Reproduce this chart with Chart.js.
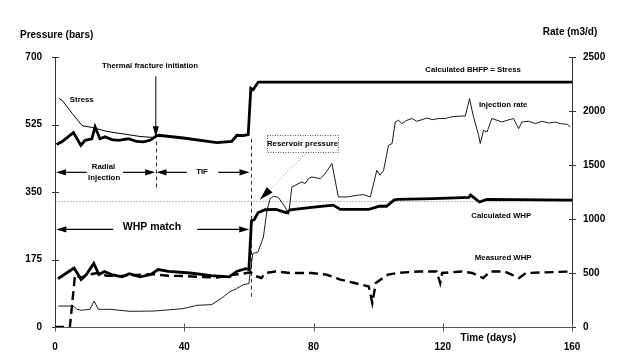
<!DOCTYPE html>
<html>
<head>
<meta charset="utf-8">
<script src="https://cdn.jsdelivr.net/npm/chart.js@4.4.1/dist/chart.umd.min.js"></script>
<style>
  html, body { margin: 0; padding: 0; background: #fff; }
  #c { display: block; }
</style>
</head>
<body>
<canvas id="c" width="624" height="364"></canvas>
<script>
// ---- Data ----
const xTicks = [0, 40, 80, 120, 160];
const pressureTicks = [0, 175, 350, 525, 700];
const rateTicks = [0, 500, 1000, 1500, 2000, 2500];

const stressDays = [1.2, 2.5, 5.3, 8.4, 11.8, 16.1, 22.3, 26.3, 31.0];
const stressBars = [593, 585, 554, 522, 517, 507, 499, 494, 491];

const bhfpDays = [0.5, 2.1, 5.7, 8.0, 9.3, 11.4, 12.4, 13.9, 15.5, 17.6, 19.6, 22.7, 25.3, 27.4, 29.4, 31.0, 32.0, 39.7, 50.1, 54.7, 56.3, 58.2, 59.8, 60.6, 61.3, 62.9, 160];
const bhfpBars = [473, 480, 504, 471, 484, 488, 519, 488, 493, 486, 484, 488, 481, 480, 484, 493, 497, 490, 478, 481, 497, 496, 499, 619, 615, 635, 635];

const whpDays = [0.9, 5.9, 8.1, 9.7, 12.0, 13.6, 15.3, 17.5, 20.8, 23.0, 26.3, 29.6, 31.9, 35.2, 41.8, 48.4, 54.0, 56.2, 59.0, 60.0, 60.8, 61.7, 62.8, 65.0, 68.4, 71.7, 72.8, 79.4, 86.1, 88.3, 97.1, 100.4, 102.6, 104.9, 105.9, 117.0, 128.1, 128.6, 131.4, 133.6, 160];
const whpBars = [125, 153, 123, 136, 165, 136, 144, 136, 130, 138, 130, 136, 149, 144, 140, 133, 130, 144, 151, 149, 275, 279, 296, 304, 305, 296, 304, 310, 316, 305, 305, 313, 313, 329, 331, 333, 336, 342, 324, 331, 329];

const measDays = [0, 4.6, 6.2, 8, 10, 13, 16, 20, 25, 30, 35, 40, 45, 50, 55, 58, 60.6, 61.7, 63.9, 65.0, 68.3, 72.8, 79.4, 83.8, 87.1, 88.3, 92.7, 97.1, 98.2, 99.3, 101.5, 103.1, 105.9, 112.6, 118.1, 119.2, 119.8, 125.9, 129.1, 132.5, 134.7, 139.0, 141.3, 143.6, 145.8, 160];
const measBars = [0, 0, 135, 128, 135, 140, 133, 132, 135, 137, 133, 132, 130, 128, 135, 138, 142, 133, 127, 140, 144, 140, 140, 136, 127, 123, 114, 105, 62, 114, 127, 136, 140, 144, 144, 114, 140, 144, 140, 127, 144, 144, 136, 127, 140, 144];

const rateDays = [1.0, 5.7, 6.7, 8.3, 10.8, 12.1, 13.4, 17.0, 23.2, 30.8, 39.6, 44.0, 48.5, 51.8, 54.0, 56.2, 58.4, 60.0, 61.2, 62.8, 64.5, 65.6, 66.6, 67.6, 69.1, 71.2, 72.3, 73.3, 74.3, 76.4, 77.4, 78.4, 79.5, 82.1, 83.6, 85.7, 87.7, 90.3, 93.4, 95.5, 97.6, 99.6, 100.6, 101.7, 103.2, 104.3, 105.3, 106.3, 107.4, 108.9, 110.5, 112.0, 113.6, 115.1, 116.7, 118.7, 120.8, 122.3, 124.4, 127.0, 128.3, 129.4, 131.1, 131.6, 132.6, 133.7, 135.2, 136.8, 138.3, 139.9, 141.9, 143.5, 144.5, 146.6, 148.7, 150.7, 152.8, 154.8, 156.4, 158.5, 159.5];
const rateVals = [194, 194, 164, 155, 164, 241, 164, 164, 145, 148, 170, 201, 207, 272, 324, 356, 393, 402, 680, 694, 833, 1080, 1189, 1210, 1201, 1111, 1043, 1296, 1312, 1343, 1328, 1374, 1389, 1374, 1420, 1513, 1204, 1204, 1219, 1226, 1204, 1451, 1405, 1451, 1682, 1698, 1898, 1914, 1883, 1914, 1930, 1905, 1920, 1935, 1920, 1930, 1930, 1944, 1951, 1954, 2115, 1960, 1775, 1698, 1821, 1806, 1930, 1914, 1898, 1914, 1930, 1837, 1898, 1905, 1883, 1905, 1889, 1898, 1883, 1877, 1852];

const reservoirPressure = 327;

// ---- helpers ----
const pts = (xs, ys) => xs.map((d, i) => ({ x: d, y: ys[i] }));
const FONT = '"Liberation Sans", Arial, Helvetica, sans-serif';

function arrowHead(ctx, tx, ty, fx, fy, len, half) {
  const a = Math.atan2(ty - fy, tx - fx);
  ctx.beginPath();
  ctx.moveTo(tx, ty);
  ctx.lineTo(tx - len * Math.cos(a) + half * Math.sin(a), ty - len * Math.sin(a) - half * Math.cos(a));
  ctx.lineTo(tx - len * Math.cos(a) - half * Math.sin(a), ty - len * Math.sin(a) + half * Math.cos(a));
  ctx.closePath();
  ctx.fill();
}
function line(ctx, x1, y1, x2, y2) {
  ctx.beginPath(); ctx.moveTo(x1, y1); ctx.lineTo(x2, y2); ctx.stroke();
}

const axesPlugin = {
  id: 'axesPlugin',
  beforeDatasetsDraw(chart) {
    const { ctx, scales: { x, y, y1 } } = chart;
    ctx.save();
    ctx.lineWidth = 1;
    ctx.setLineDash([]);
    // left axis
    ctx.strokeStyle = '#333';
    const xl = Math.round(x.getPixelForValue(0)) + 0.5;
    line(ctx, xl, y.getPixelForValue(0), xl, y.getPixelForValue(700));
    pressureTicks.forEach(v => { const p = Math.round(y.getPixelForValue(v)) + 0.5; line(ctx, xl - 3.5, p, xl + 3.5, p); });
    // right axis
    const xr = Math.round(x.getPixelForValue(160)) + 0.5;
    line(ctx, xr, y1.getPixelForValue(0), xr, y1.getPixelForValue(2500));
    rateTicks.forEach(v => { const p = Math.round(y1.getPixelForValue(v)) + 0.5; line(ctx, xr - 3.5, p, xr + 3.5, p); });
    // bottom axis
    ctx.strokeStyle = '#555';
    const yb = Math.round(y.getPixelForValue(0)) + 0.5;
    line(ctx, xl, yb, xr, yb);
    xTicks.forEach(v => { const p = Math.round(x.getPixelForValue(v)) + 0.5; line(ctx, p, yb - 4, p, yb + 4); });
    // reservoir pressure dotted line
    ctx.strokeStyle = '#777';
    ctx.setLineDash([1, 2]);
    const yr = Math.round(y.getPixelForValue(reservoirPressure)) + 0.5;
    line(ctx, xl, yr, xr, yr);
    // dashed verticals
    ctx.strokeStyle = '#333';
    ctx.setLineDash([4, 3]);
    const v1 = Math.round(x.getPixelForValue(31.2)) + 0.5;
    line(ctx, v1, y.getPixelForValue(481), v1, y.getPixelForValue(353));
    const v2 = Math.round(x.getPixelForValue(60.6)) + 0.5;
    line(ctx, v2, y.getPixelForValue(488), v2, y.getPixelForValue(76));
    ctx.restore();
  },
  afterDatasetsDraw(chart) {
    const { ctx, scales: { x, y } } = chart;
    const X = d => x.getPixelForValue(d), Y = v => y.getPixelForValue(v);
    ctx.save();
    ctx.fillStyle = '#000';
    ctx.strokeStyle = '#000';
    ctx.setLineDash([]);
    ctx.textBaseline = 'middle';

    // axis titles
    ctx.font = 'bold 10px ' + FONT;
    ctx.textAlign = 'left';
    ctx.fillText('Pressure (bars)', 20, 35);
    ctx.textAlign = 'center';
    ctx.fillText('Rate (m3/d)', 570, 32);
    ctx.fillText('Time (days)', X(134.1), Y(0) + 11);

    // small annotations
    ctx.font = 'bold 7.8px ' + FONT;
    ctx.textAlign = 'left';
    ctx.fillText('Stress', X(4.6), Y(588));
    ctx.textAlign = 'center';
    ctx.fillText('Thermal fracture initiation', X(29.4), Y(676));
    ctx.fillText('Radial', X(15), Y(415));
    ctx.fillText('Injection', X(15.2), Y(387));
    ctx.fillText('TIF', X(45.5), Y(401));
    ctx.fillText('Calculated BHFP = Stress', X(129.4), Y(667));
    ctx.fillText('Injection rate', X(138.7), Y(575));
    ctx.fillText('Calculated WHP', X(138.1), Y(288));
    ctx.fillText('Measured WHP', X(138.7), Y(180));
    ctx.fillText('Reservoir pressure', X(76.6), Y(475));

    // Reservoir pressure box
    ctx.lineWidth = 1;
    ctx.strokeStyle = '#555';
    ctx.setLineDash([1, 1.5]);
    ctx.strokeRect(Math.round(X(65.6)) + 0.5, Math.round(Y(497)) + 0.5, Math.round(X(87.7) - X(65.6)), Math.round(Y(454) - Y(497)));
    // leader line
    ctx.strokeStyle = '#888';
    ctx.setLineDash([1, 2]);
    line(ctx, X(77.4), Y(449), X(64.5), Y(338));
    ctx.setLineDash([]);
    arrowHead(ctx, X(63.4), Y(330), X(77.4), Y(449), 14, 4);

    // WHP match
    ctx.font = 'bold 10.5px ' + FONT;
    ctx.fillText('WHP match', X(30), Y(259));

    // thermal fracture arrow
    ctx.strokeStyle = '#000';
    ctx.lineWidth = 1;
    line(ctx, X(31.2), Y(650), X(31.2), Y(505));
    arrowHead(ctx, X(31.2), Y(492), X(31.2), Y(650), 11, 3);

    // horizontal arrows
    ctx.lineWidth = 1.2;
    const hArrow = (yv, xa, xb, xc, xd) => {
      line(ctx, X(xa) + 8, Y(yv), X(xb), Y(yv));
      arrowHead(ctx, X(xa), Y(yv), X(xb), Y(yv), 10, 3.2);
      line(ctx, X(xc), Y(yv), X(xd) - 8, Y(yv));
      arrowHead(ctx, X(xd), Y(yv), X(xc), Y(yv), 10, 3.2);
    };
    hArrow(401, 0.3, 9.8, 21, 31.0);
    hArrow(401, 31.4, 40.8, 50.5, 60.2);
    hArrow(253, 0.4, 18, 44, 60.1);

    ctx.restore();
  }
};

const tickFont = { family: FONT, size: 10, weight: 'bold' };
const plain = v => String(v);

new Chart(document.getElementById('c'), {
  type: 'line',
  data: {
    datasets: [
      { data: pts(stressDays, stressBars), yAxisID: 'y', borderColor: '#000', borderWidth: 1, pointRadius: 0 },
      { data: pts(bhfpDays, bhfpBars), yAxisID: 'y', borderColor: '#000', borderWidth: 2.8, pointRadius: 0 },
      { data: pts(whpDays, whpBars), yAxisID: 'y', borderColor: '#000', borderWidth: 2.8, pointRadius: 0 },
      { data: pts(measDays, measBars), yAxisID: 'y', borderColor: '#000', borderWidth: 2.4, borderDash: [9, 5], pointRadius: 0 },
      { data: pts(rateDays, rateVals), yAxisID: 'y1', borderColor: '#000', borderWidth: 0.9, pointRadius: 0 }
    ]
  },
  options: {
    responsive: false,
    animation: false,
    devicePixelRatio: 1,
    layout: { padding: { top: 57, left: 0, right: 0, bottom: 0 } },
    plugins: { legend: { display: false }, tooltip: { enabled: false } },
    elements: { line: { tension: 0, fill: false } },
    scales: {
      x: {
        type: 'linear', min: 0, max: 160,
        afterBuildTicks: s => { s.ticks = xTicks.map(v => ({ value: v })); },
        afterFit: s => { s.height = 37; },
        grid: { display: false, drawTicks: false },
        border: { display: false },
        ticks: { font: tickFont, color: '#000', padding: 14, maxRotation: 0, callback: plain }
      },
      y: {
        type: 'linear', position: 'left', min: 0, max: 700,
        afterBuildTicks: s => { s.ticks = pressureTicks.map(v => ({ value: v })); },
        afterFit: s => { s.width = 55; },
        grid: { display: false, drawTicks: false },
        border: { display: false },
        ticks: { font: tickFont, color: '#000', padding: 13, callback: plain }
      },
      y1: {
        type: 'linear', position: 'right', min: 0, max: 2500,
        afterBuildTicks: s => { s.ticks = rateTicks.map(v => ({ value: v })); },
        afterFit: s => { s.width = 52; },
        grid: { display: false, drawTicks: false },
        border: { display: false },
        ticks: { font: tickFont, color: '#000', padding: 11, callback: plain }
      }
    }
  },
  plugins: [axesPlugin]
});
</script>
</body>
</html>
